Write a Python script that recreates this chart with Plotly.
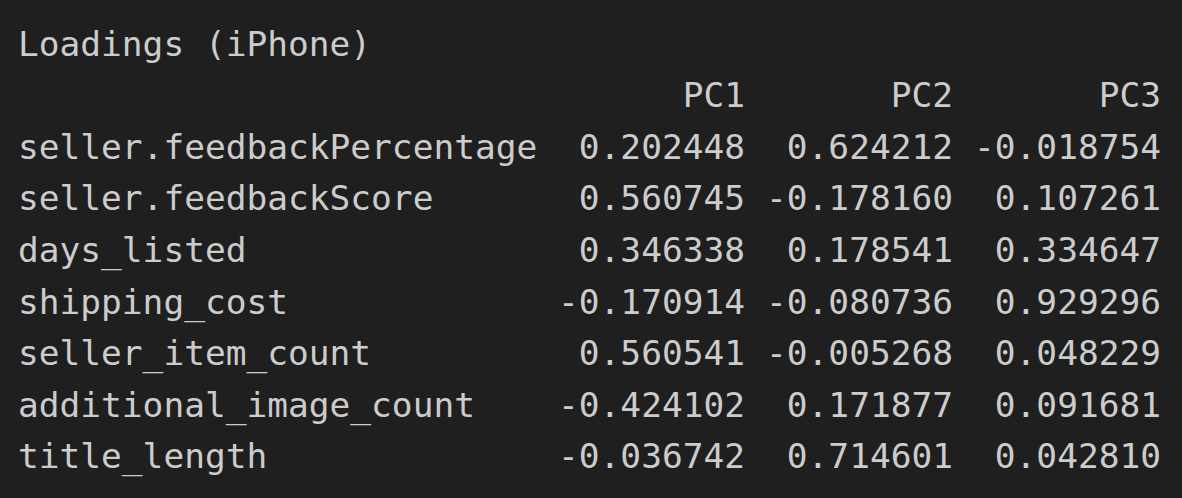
import plotly.graph_objects as go

title = "Loadings (iPhone)"
columns = ["PC1", "PC2", "PC3"]
features = [
    "seller.feedbackPercentage",
    "seller.feedbackScore",
    "days_listed",
    "shipping_cost",
    "seller_item_count",
    "additional_image_count",
    "title_length",
]
pc1 = [0.202448, 0.560745, 0.346338, -0.170914, 0.560541, -0.424102, -0.036742]
pc2 = [0.624212, -0.178160, 0.178541, -0.080736, -0.005268, 0.171877, 0.714601]
pc3 = [-0.018754, 0.107261, 0.334647, 0.929296, 0.048229, 0.091681, 0.042810]

bg = "#1f1f1f"
fg = "#cccccc"
mono = dict(family="DejaVu Sans Mono, Menlo, monospace", size=34.5, color=fg)

# x in pixels, y in text rows (title = row 0, header = row 1)
left_x = 18
col_right = [745, 953, 1161]
rows = list(range(2, 2 + len(features)))

fig = go.Figure()

fig.add_trace(go.Scatter(
    x=[left_x], y=[0], text=[title], mode="text",
    textposition="middle right", textfont=mono, hoverinfo="skip"
))

fig.add_trace(go.Scatter(
    x=col_right, y=[1] * len(columns), text=columns, mode="text",
    textposition="middle left", textfont=mono, hoverinfo="skip"
))

fig.add_trace(go.Scatter(
    x=[left_x] * len(features), y=rows, text=features, mode="text",
    textposition="middle right", textfont=mono, hoverinfo="skip"
))

for xr, vals in zip(col_right, [pc1, pc2, pc3]):
    fig.add_trace(go.Scatter(
        x=[xr] * len(vals), y=rows, text=[f"{v:.6f}" for v in vals],
        mode="text", textposition="middle left", textfont=mono,
        hoverinfo="skip"
    ))

pitch = 51.6
top = 47
fig.update_layout(
    width=1182, height=498,
    margin=dict(l=0, r=0, t=0, b=0),
    paper_bgcolor=bg, plot_bgcolor=bg,
    showlegend=False,
    xaxis=dict(range=[0, 1182], visible=False, fixedrange=True),
    yaxis=dict(range=[(498 - top) / pitch, -top / pitch], visible=False, fixedrange=True),
)

# drop the default page margin so the dark figure fills the window
fig.write_html(
    "out.html",
    config={"displayModeBar": False},
    post_script="document.body.style.margin='0';"
                "document.body.style.background='#1f1f1f';"
                "document.body.style.overflow='hidden';",
)
